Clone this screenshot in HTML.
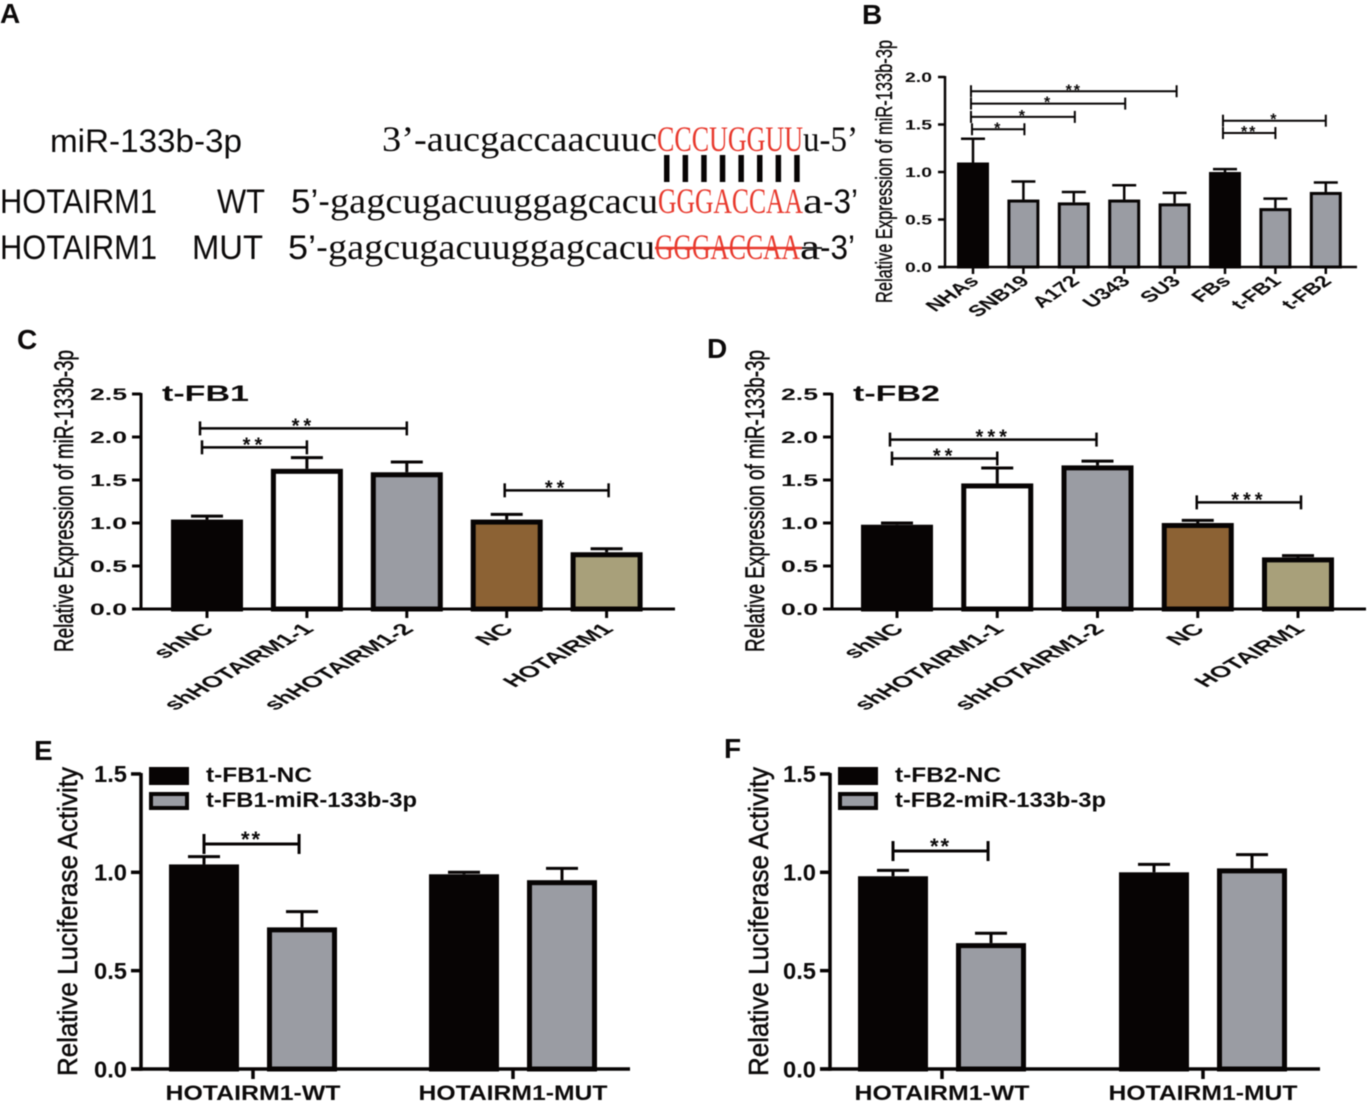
<!DOCTYPE html>
<html lang="en">
<head>
<meta charset="utf-8">
<title>miR-133b-3p and HOTAIRM1 figure</title>
<style>
html,body{margin:0;padding:0;background:#fff;}
svg{display:block;filter:blur(0.4px);}
text{font-family:"Liberation Sans",sans-serif;fill:#0c0a0a;}
.serif{font-family:"Liberation Serif",serif;}
.bold{font-weight:bold;}
</style>
</head>
<body>
<svg id="figure" xmlns="http://www.w3.org/2000/svg" width="1368" height="1101" viewBox="0 0 1368 1101">
  <rect x="0" y="0" width="1368" height="1101" fill="#ffffff"/>

  <g class="bold" font-size="28">
    <text x="0" y="23" font-weight="bold">A</text>
    <text x="862" y="24" font-weight="bold">B</text>
    <text x="17" y="349" font-weight="bold">C</text>
    <text x="707" y="358" font-weight="bold">D</text>
    <text x="34" y="760" font-weight="bold">E</text>
    <text x="724" y="758" font-weight="bold">F</text>
  </g>

  <g id="panel-a">
    <text x="50" y="152" font-size="32" textLength="192" lengthAdjust="spacingAndGlyphs">miR-133b-3p</text>
    <text class="serif" x="382" y="151" font-size="36" textLength="275" lengthAdjust="spacingAndGlyphs">3’-aucgaccaacuuc</text>
    <text class="serif" x="657" y="151" font-size="36" style="fill:#e8382c" textLength="146" lengthAdjust="spacingAndGlyphs">CCCUGGUU</text>
    <text class="serif" x="803" y="151" font-size="36" textLength="55" lengthAdjust="spacingAndGlyphs">u-5’</text>
    <g id="pair-lines"></g>

    <text x="0" y="213" font-size="34" textLength="157" lengthAdjust="spacingAndGlyphs">HOTAIRM1</text>
    <text x="217" y="213" font-size="34" textLength="48" lengthAdjust="spacingAndGlyphs">WT</text>
    <text x="291" y="213" font-size="34" textLength="39" lengthAdjust="spacingAndGlyphs">5’-</text>
    <text class="serif" x="330" y="213" font-size="36" textLength="328" lengthAdjust="spacingAndGlyphs">gagcugacuuggagcacu</text>
    <text class="serif" x="658" y="213" font-size="36" style="fill:#e8382c" textLength="145" lengthAdjust="spacingAndGlyphs">GGGACCAA</text>
    <text class="serif" x="803" y="213" font-size="36" textLength="20" lengthAdjust="spacingAndGlyphs">a</text>
    <text x="823" y="213" font-size="34" textLength="35" lengthAdjust="spacingAndGlyphs">-3’</text>

    <text x="0" y="259" font-size="34" textLength="157" lengthAdjust="spacingAndGlyphs">HOTAIRM1</text>
    <text x="192" y="259" font-size="34" textLength="71" lengthAdjust="spacingAndGlyphs">MUT</text>
    <text x="288" y="259" font-size="34" textLength="40" lengthAdjust="spacingAndGlyphs">5’-</text>
    <text class="serif" x="328" y="259" font-size="36" textLength="327" lengthAdjust="spacingAndGlyphs">gagcugacuuggagcacu</text>
    <text class="serif" x="655" y="259" font-size="36" style="fill:#e8382c" textLength="145" lengthAdjust="spacingAndGlyphs">GGGACCAA</text>
    <text class="serif" x="800" y="259" font-size="36" textLength="20" lengthAdjust="spacingAndGlyphs">a</text>
    <text x="820" y="259" font-size="34" textLength="35" lengthAdjust="spacingAndGlyphs">-3’</text>
    <line x1="655" y1="248" x2="802" y2="248" stroke="#e8382c" stroke-width="2.5"/>
    <line x1="802" y1="248" x2="822" y2="248" stroke="#222" stroke-width="2"/>
  </g>

  <g id="charts"></g>
</svg>

<script>
// Panel B
const panelBCategories = ['NHAs','SNB19','A172','U343','SU3','FBs','t-FB1','t-FB2'];
const panelBValues = [1.10,0.71,0.68,0.71,0.67,1.00,0.62,0.79];
const panelBErrorTops = [1.35,0.90,0.79,0.86,0.78,1.03,0.72,0.89];
const panelBColors = ['#070404','#9a9ca3','#9a9ca3','#9a9ca3','#9a9ca3','#070404','#9a9ca3','#9a9ca3'];
const panelBTicks = [0,0.5,1,1.5,2];
const panelBBrackets = [
  {from:-0.04,to:4.04,level:1.85,stars:'**'},
  {from:-0.04,to:3.02,level:1.72,stars:'*'},
  {from:-0.04,to:2.02,level:1.58,stars:'*'},
  {from:-0.02,to:1.02,level:1.45,stars:'*'},
  {from:4.96,to:7,level:1.54,stars:'*'},
  {from:4.96,to:6,level:1.41,stars:'**'}
];

// Panel C
const panelCCategories = ['shNC','shHOTAIRM1-1','shHOTAIRM1-2','NC','HOTAIRM1'];
const panelCValues = [1.04,1.63,1.59,1.04,0.66];
const panelCErrorTops = [1.08,1.76,1.71,1.10,0.70];
const panelCTicks = [0,0.5,1,1.5,2,2.5];
const panelCBrackets = [
  {from:-0.07,to:2,level:2.10,stars:'**'},
  {from:-0.05,to:1,level:1.88,stars:'**'},
  {from:2.98,to:4.02,level:1.38,stars:'**'}
];

// Panel D
const panelDCategories = ['shNC','shHOTAIRM1-1','shHOTAIRM1-2','NC','HOTAIRM1'];
const panelDValues = [0.98,1.46,1.67,1.00,0.60];
const panelDErrorTops = [1.00,1.64,1.72,1.03,0.62];
const panelDTicks = [0,0.5,1,1.5,2,2.5];
const panelDBrackets = [
  {from:-0.07,to:1.99,level:1.97,stars:'***'},
  {from:-0.05,to:1,level:1.75,stars:'**'},
  {from:2.99,to:4.03,level:1.24,stars:'***'}
];

// Panel E
const panelEGroups = ['HOTAIRM1-WT','HOTAIRM1-MUT'];
const panelENcValues = [1.04,0.99];
const panelENcErrorTops = [1.08,1.00];
const panelEMirValues = [0.72,0.96];
const panelEMirErrorTops = [0.80,1.02];
const panelETicks = [0,0.5,1,1.5];
const panelELegend = ['t-FB1-NC','t-FB1-miR-133b-3p'];
const panelEBrackets = [{from:-0.5,to:0.47,level:1.144,stars:'**'}];

// Panel F
const panelFGroups = ['HOTAIRM1-WT','HOTAIRM1-MUT'];
const panelFNcValues = [0.98,1.00];
const panelFNcErrorTops = [1.01,1.04];
const panelFMirValues = [0.64,1.02];
const panelFMirErrorTops = [0.69,1.09];
const panelFTicks = [0,0.5,1,1.5];
const panelFLegend = ['t-FB2-NC','t-FB2-miR-133b-3p'];
const panelFBrackets = [{from:-0.5,to:0.47,level:1.108,stars:'**'}];

const SVG_NS = 'http://www.w3.org/2000/svg';
const INK = '#070404';
const GREY = '#9a9ca3';

function node(tag, parent, attrs, content) {
  const el = document.createElementNS(SVG_NS, tag);
  for (const k in attrs) el.setAttribute(k, attrs[k]);
  if (content !== undefined) el.textContent = content;
  parent.appendChild(el);
  return el;
}

// Base-pair ticks in panel A
const pairGroup = document.getElementById('pair-lines');
for (let i = 0; i < 8; i++) {
  const pair = node('rect', pairGroup, {x: 664 + i * 18.6, y: 155, width: 5.5, height: 27, fill: INK});
  
  
}

function drawAxes(g, c) {
  const yScale = v => c.y0 - v * c.pxPerUnit;
  const yAxis = node('line', g, {x1: c.axisX, x2: c.axisX, y1: yScale(c.ticks[c.ticks.length - 1]) - 1, y2: c.y0 + c.axisW / 2, stroke: INK, 'stroke-width': c.axisW});
  
  
  const xAxis = node('line', g, {x1: c.axisX - c.tickLen, x2: c.axisEnd, y1: c.y0, y2: c.y0, stroke: INK, 'stroke-width': c.axisW});
  
  
  c.ticks.forEach(t => {
    const tick = node('line', g, {x1: c.axisX - c.tickLen, x2: c.axisX, y1: yScale(t), y2: yScale(t), stroke: INK, 'stroke-width': c.axisW});
    
    
    const label = node('text', g, {x: c.tickTextRight - c.tickTextW, y: yScale(t) + c.tickFont * 0.36, 'font-size': c.tickFont, 'font-weight': 'bold', textLength: c.tickTextW, lengthAdjust: 'spacingAndGlyphs'}, t.toFixed(1));
    
    
  });
  const title = node('text', g, {transform: 'translate(' + c.titleX + ',' + c.titleBottom + ') rotate(-90)', x: 0, y: 0, 'font-size': c.titleFont, textLength: c.titleLen, lengthAdjust: 'spacingAndGlyphs', stroke: '#0c0a0a', 'stroke-width': c.titleStroke}, c.title);
  
  
  return yScale;
}

function drawBar(g, c, cx, value, errTop, fill, yScale) {
  const top = yScale(value), etop = yScale(errTop);
  const err = node('line', g, {x1: cx, x2: cx, y1: top, y2: etop, stroke: INK, 'stroke-width': c.errW});
  
  
  const cap = node('line', g, {x1: cx - c.capHalf, x2: cx + c.capHalf, y1: etop, y2: etop, stroke: INK, 'stroke-width': c.errW});
  
  
  const s = c.barStroke;
  const bar = node('rect', g, {x: cx - c.barW / 2 + s / 2, y: top + s / 2, width: c.barW - s, height: c.y0 - top - s / 2, fill: fill, stroke: INK, 'stroke-width': s});
  
  
}

function drawBrackets(g, c, list, xAt, yScale) {
  list.forEach(b => {
    const x1 = xAt(b.from), x2 = xAt(b.to), y = yScale(b.level);
    const h = node('line', g, {x1: x1, x2: x2, y1: y, y2: y, stroke: INK, 'stroke-width': c.brW});
    
    
    const l = node('line', g, {x1: x1, x2: x1, y1: y - c.brCap, y2: y + c.brCap, stroke: INK, 'stroke-width': c.brW});
    
    
    const r = node('line', g, {x1: x2, x2: x2, y1: y - c.brCap, y2: y + c.brCap, stroke: INK, 'stroke-width': c.brW});
    
    
    const star = node('text', g, {x: (x1 + x2) / 2, y: y + c.starDy, 'font-size': c.starFont, 'font-weight': 'bold', 'text-anchor': 'middle', 'letter-spacing': c.starSpace}, b.stars);
    
    
  });
}

function drawCategoryChart(c) {
  const g = node('g', document.getElementById('charts'), {});
  
  
  const yScale = drawAxes(g, c);
  const xAt = i => c.x0 + i * c.step;
  c.categories.forEach((cat, i) => {
    drawBar(g, c, xAt(i), c.values[i], c.errorTops[i], c.colors[i], yScale);
    const tick = node('line', g, {x1: xAt(i), x2: xAt(i), y1: c.y0, y2: c.y0 + c.tickLen, stroke: INK, 'stroke-width': c.axisW});
    
    
    const label = node('text', g, {transform: 'translate(' + (xAt(i) + c.labelDx) + ',' + (c.y0 + c.labelDy) + ') scale(' + c.labelSx + ',' + c.labelSy + ') rotate(-45)', x: 0, y: 0, 'text-anchor': 'end', 'font-size': c.labelFont, 'font-weight': 'bold'}, cat);
    
    
  });
  drawBrackets(g, c, c.brackets, xAt, yScale);
  if (c.heading) {
    const head = node('text', g, {x: c.headingX, y: 401, 'font-size': 22, 'font-weight': 'bold', textLength: 87, lengthAdjust: 'spacingAndGlyphs'}, c.heading);
    
    
  }
}

function drawGroupedChart(c) {
  const g = node('g', document.getElementById('charts'), {});
  
  
  const yScale = drawAxes(g, c);
  const xAt = i => c.x0 + i * c.step;
  c.groups.forEach((name, i) => {
    drawBar(g, c, xAt(i) - c.offset, c.ncValues[i], c.ncErrors[i], INK, yScale);
    drawBar(g, c, xAt(i) + c.offset, c.mirValues[i], c.mirErrors[i], GREY, yScale);
    const tick = node('line', g, {x1: xAt(i), x2: xAt(i), y1: c.y0, y2: c.y0 + c.tickLen, stroke: INK, 'stroke-width': c.axisW});
    
    
    const label = node('text', g, {x: xAt(i), y: 1100, 'text-anchor': 'middle', 'font-size': 21, 'font-weight': 'bold', textLength: c.labelLens[i], lengthAdjust: 'spacingAndGlyphs'}, name);
    
    
  });
  drawBrackets(g, c, c.brackets, i => xAt(0) + i * c.offset * 2, yScale);

  const swatchA = node('rect', g, {x: c.legendX, y: 767, width: 40, height: 18, fill: INK});
  
  
  const swatchB = node('rect', g, {x: c.legendX + 2, y: 794, width: 36, height: 14, fill: GREY, stroke: INK, 'stroke-width': 4});
  
  
  const textA = node('text', g, {x: c.legendX + 57, y: 782, 'font-size': 21, 'font-weight': 'bold', textLength: 106, lengthAdjust: 'spacingAndGlyphs'}, c.legend[0]);
  
  
  const textB = node('text', g, {x: c.legendX + 57, y: 807, 'font-size': 21, 'font-weight': 'bold', textLength: 211, lengthAdjust: 'spacingAndGlyphs'}, c.legend[1]);
  
  
}

const wideAxis = {
  y0: 609, pxPerUnit: 86, axisW: 3, tickLen: 9, axisEnd: 675,
  tickFont: 17, tickTextW: 37, titleFont: 27, titleLen: 302, titleBottom: 652, titleStroke: 0.5,
  step: 99.9, barW: 72, barStroke: 5, errW: 3, capHalf: 16,
  brW: 2.5, brCap: 7, starFont: 20, starDy: 4, starSpace: 4,
  labelDx: 8, labelDy: 21, labelSx: 1.53, labelSy: 0.885, labelFont: 18,
  title: 'Relative Expression of miR-133b-3p'
};

drawCategoryChart(Object.assign({}, wideAxis, {
  name: 'panel-b-chart', categories: panelBCategories, values: panelBValues, errorTops: panelBErrorTops,
  colors: panelBColors, ticks: panelBTicks, brackets: panelBBrackets,
  y0: 267, pxPerUnit: 95, axisX: 945, axisEnd: 1357, axisW: 2.5, tickLen: 7,
  tickTextRight: 932, tickTextW: 27, tickFont: 14,
  titleX: 892, titleBottom: 303, titleLen: 263, titleFont: 23, titleStroke: 0.4,
  x0: 973, step: 50.4, barW: 32, barStroke: 3, errW: 2.5, capHalf: 12,
  brW: 2, brCap: 6, starFont: 16, starDy: 4, starSpace: 2,
  labelDx: 7, labelDy: 15, labelSx: 1.66, labelSy: 1.13, labelFont: 14
}));

drawCategoryChart(Object.assign({}, wideAxis, {
  name: 'panel-c-chart', categories: panelCCategories, values: panelCValues, errorTops: panelCErrorTops,
  colors: ['#070404', '#ffffff', '#9a9ca3', '#8c6234', '#a8a07a'], ticks: panelCTicks, brackets: panelCBrackets,
  axisX: 141, tickTextRight: 127, titleX: 73, x0: 207, heading: 't-FB1', headingX: 162
}));

drawCategoryChart(Object.assign({}, wideAxis, {
  name: 'panel-d-chart', categories: panelDCategories, values: panelDValues, errorTops: panelDErrorTops,
  colors: ['#070404', '#ffffff', '#9a9ca3', '#8c6234', '#a8a07a'], ticks: panelDTicks, brackets: panelDBrackets,
  axisX: 832, axisEnd: 1366, tickTextRight: 818, titleX: 764, x0: 897, step: 100.25, heading: 't-FB2', headingX: 853
}));

const groupedAxis = {
  y0: 1069, pxPerUnit: 196.7, axisW: 3.5, tickLen: 10,
  tickFont: 23, tickTextW: 33, titleFont: 28, titleLen: 309, titleBottom: 1076, titleStroke: 0.5,
  barW: 70, barStroke: 5, errW: 3, capHalf: 16, offset: 49,
  brW: 3, brCap: 10, starFont: 22, starDy: 3, starSpace: 2,
  title: 'Relative Luciferase Activity', labelLens: [175, 189]
};

drawGroupedChart(Object.assign({}, groupedAxis, {
  name: 'panel-e-chart', groups: panelEGroups, ncValues: panelENcValues, ncErrors: panelENcErrorTops,
  mirValues: panelEMirValues, mirErrors: panelEMirErrorTops, ticks: panelETicks, brackets: panelEBrackets, legend: panelELegend,
  axisX: 141, axisEnd: 630, tickTextRight: 127, titleX: 77, x0: 253, step: 260, legendX: 149
}));

drawGroupedChart(Object.assign({}, groupedAxis, {
  name: 'panel-f-chart', groups: panelFGroups, ncValues: panelFNcValues, ncErrors: panelFNcErrorTops,
  mirValues: panelFMirValues, mirErrors: panelFMirErrorTops, ticks: panelFTicks, brackets: panelFBrackets, legend: panelFLegend,
  axisX: 830, axisEnd: 1320, tickTextRight: 816, titleX: 768, x0: 942, step: 261, legendX: 838
}));
</script>
</body>
</html>
